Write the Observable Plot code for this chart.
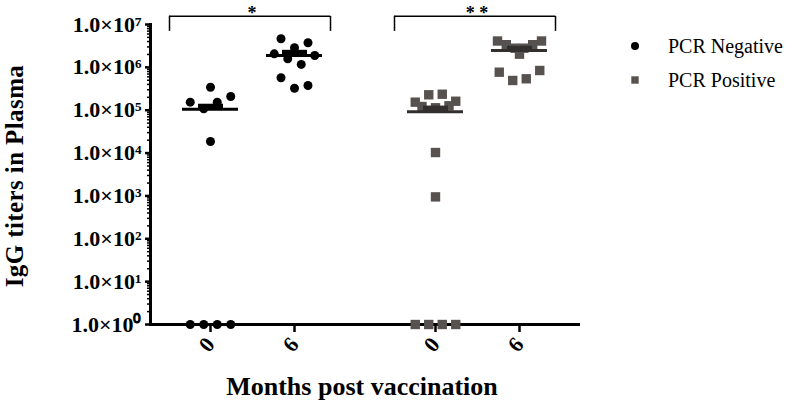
<!DOCTYPE html>
<html>
<head>
<meta charset="utf-8">
<script src="https://cdn.jsdelivr.net/npm/d3@7"></script>
<script src="https://cdn.jsdelivr.net/npm/@observablehq/plot@0.6"></script>
<style>
  body { margin: 0; background: #fff; }
  #wrap { position: relative; width: 789px; height: 405px; font-family: "Liberation Serif", "Times New Roman", serif; color: #000; }
  #wrap svg { display: block; }
  .ytitle { position: absolute; left: 14px; top: 176px; transform: translate(-50%, -50%) rotate(-90deg); white-space: nowrap; font-weight: bold; font-size: 25px; line-height: 25px; letter-spacing: 0.4px; }
  .xtitle { position: absolute; left: 362px; top: 374px; transform: translateX(-50%); white-space: nowrap; font-weight: bold; font-size: 26px; line-height: 26px; }
  .legend { position: absolute; left: 628px; top: 29px; font-size: 20px; }
  .legend .item { display: flex; align-items: center; height: 34px; }
  .legend svg { margin-right: 26px; }
</style>
</head>
<body>
<div id="wrap"></div>
<script>
// ---- data ----
const statuses = ["PCR Negative", "PCR Positive"];
const months = ["0", "6"];
const yTicks = [1, 10, 100, 1e3, 1e4, 1e5, 1e6, 1e7];
const yTickLabels = ["1.0×10⁰", "1.0×10¹", "1.0×10²", "1.0×10³", "1.0×10⁴", "1.0×10⁵", "1.0×10⁶", "1.0×10⁷"];
// each group: rows of the scatter, top to bottom, each row left to right
const negMonth0 = [[3.44e5], [1.54e5, 1.08e5, 1.54e5, 2.09e5], [1.86e4], [1, 1, 1, 1]];
const negMonth6 = [[4.64e6, 2.86e6, 3.74e6], [2.07e6, 1.58e6, 1.17e6, 1.89e6], [5.71e5, 3.26e5, 3.77e5]];
const posMonth0 = [[1.54e5, 2.29e5, 2.36e5, 1.62e5], [1.22e5, 1.14e5, 1.27e5], [1.03e4], [9.5e2], [1, 1, 1, 1]];
const posMonth6 = [[4.12e6, 3.38e6, 2.8e6, 2.8e6, 3.38e6, 4.12e6], [2.03e6], [7.71e5, 4.94e5, 5.41e5, 8.45e5]];
const groupMeans = [1.05e5, 1.89e6, 9.2e4, 2.47e6];
const groupSemTops = [1.38e5, 2.5e6, 1.25e5, 3.1e6];
const significance = ["*", "* *"];
const seriesColors = ["#000000", "#57524f"];
const meanColors = ["#000000", "#332f2f"];
const seriesSymbols = ["circle", "square"];

// ---- tables built from the arrays ----
const groups = [
  [statuses[0], months[0], negMonth0], [statuses[0], months[1], negMonth6],
  [statuses[1], months[0], posMonth0], [statuses[1], months[1], posMonth6]
];
const points = [];
groups.forEach(([status, month, rows]) =>
  rows.forEach((row, r) => row.forEach(value => points.push({status, month, value, row: r}))));
const summary = groups.map(([status, month], i) => ({status, month, mean: groupMeans[i], semTop: groupSemTops[i]}));
const brackets = statuses.map((status, i) => ({status, from: months[0], to: months[1], label: significance[i]}));
const minorTicks = [];
for (let e = 0; e < 7; ++e) for (let k = 2; k <= 9; ++k) minorTicks.push(k * 10 ** e);

// scatter layout: spread each row of a group horizontally around its x position
function scatterRows(options) {
  return Plot.initializer(options, (data, facets, channels, scales) => {
    const XV = channels.x.value;
    const X = new Float64Array(XV.length);
    for (const I of facets) {
      const byGroup = d3.group(I, i => XV[i], i => data[i].row);
      for (const [xv, rows] of byGroup) {
        const cx = scales.x(xv);
        for (const idx of rows.values()) {
          const n = idx.length;
          const step = n > 1 ? Math.min(13.5, 44 / (n - 1)) : 0;
          idx.forEach((i, k) => { X[i] = cx + (k - (n - 1) / 2) * step; });
        }
      }
    }
    return {data, facets, channels: {x: {value: X}}};
  });
}

const bracketTop = 1.55e7, bracketLeg = 6.9e6;
const meanStroke = d => meanColors[statuses.indexOf(d.status)];

const chart = Plot.plot({
  width: 789,
  height: 405,
  marginLeft: 137,
  marginRight: 199,
  marginTop: 24,
  marginBottom: 81,
  style: {fontFamily: '"Liberation Serif", "Times New Roman", serif', background: "#fff", color: "#000"},
  fx: {domain: statuses, paddingInner: 0.1, paddingOuter: 0.055, axis: null, label: null},
  x: {type: "point", domain: months, padding: 0.7, label: null},
  y: {type: "log", domain: [1, 1e7], label: null},
  marks: [
    Plot.axisY({ticks: minorTicks, tickSize: 3, tickFormat: () => "", strokeWidth: 1.5, label: null}),
    Plot.axisY({ticks: yTicks, tickFormat: d => yTickLabels[yTicks.indexOf(d)], tickSize: 5, tickPadding: 4,
                fontSize: 22, fontWeight: "bold", strokeWidth: 2.5, label: null}),
    Plot.axisX({tickSize: 8, tickPadding: 8, tickRotate: -50, fontSize: 22, fontWeight: "bold", strokeWidth: 2.5, label: null}),
    Plot.frame({anchor: "left", facet: "super", strokeWidth: 3}),
    Plot.frame({anchor: "bottom", facet: "super", strokeWidth: 3}),
    // significance brackets
    Plot.ruleY(brackets, {fx: "status", x1: "from", x2: "to", y: bracketTop, insetLeft: -41, insetRight: -36, strokeWidth: 1.5}),
    Plot.ruleX(brackets, {fx: "status", x: "from", y1: bracketTop, y2: bracketLeg, dx: -41, strokeWidth: 1.5}),
    Plot.ruleX(brackets, {fx: "status", x: "to", y1: bracketTop, y2: bracketLeg, dx: 36, strokeWidth: 1.5}),
    Plot.text(brackets, {fx: "status", y: bracketTop, text: "label", dy: -3, fontSize: 18, fontWeight: "bold"}),
    // points
    Plot.dot(points.filter(d => d.status === statuses[0]),
      scatterRows({fx: "status", x: "month", y: "value", symbol: seriesSymbols[0], r: 4.5, fill: seriesColors[0], stroke: "none"})),
    Plot.dot(points.filter(d => d.status === statuses[1]),
      scatterRows({fx: "status", x: "month", y: "value", symbol: seriesSymbols[1], r: 5.3, fill: seriesColors[1], stroke: "none"})),
    // mean with SEM (upper, drawn as a short thick bar)
    Plot.ruleX(summary, {fx: "status", x: "month", y1: "mean", y2: "semTop", strokeWidth: 25, stroke: meanStroke}),
    Plot.ruleY(summary, {fx: "status", x1: "month", x2: "month", y: "mean", insetLeft: -28, insetRight: -28, strokeWidth: 3,
      stroke: meanStroke})
  ]
});

const wrap = document.getElementById("wrap");
wrap.appendChild(chart);

const yt = document.createElement("div");
yt.className = "ytitle";
yt.textContent = "IgG titers in Plasma";
wrap.appendChild(yt);

const xt = document.createElement("div");
xt.className = "xtitle";
xt.textContent = "Months post vaccination";
wrap.appendChild(xt);

const legend = document.createElement("div");
legend.className = "legend";
statuses.forEach((s, i) => {
  const item = document.createElement("div");
  item.className = "item";
  const sym = seriesSymbols[i] === "circle"
    ? `<circle cx="7" cy="7" r="4" fill="${seriesColors[i]}"/>`
    : `<rect x="3.3" y="3.3" width="7.4" height="7.4" fill="${seriesColors[i]}"/>`;
  item.innerHTML = `<svg width="14" height="14">${sym}</svg><span>${s}</span>`;
  legend.appendChild(item);
});
wrap.appendChild(legend);
</script>
</body>
</html>
